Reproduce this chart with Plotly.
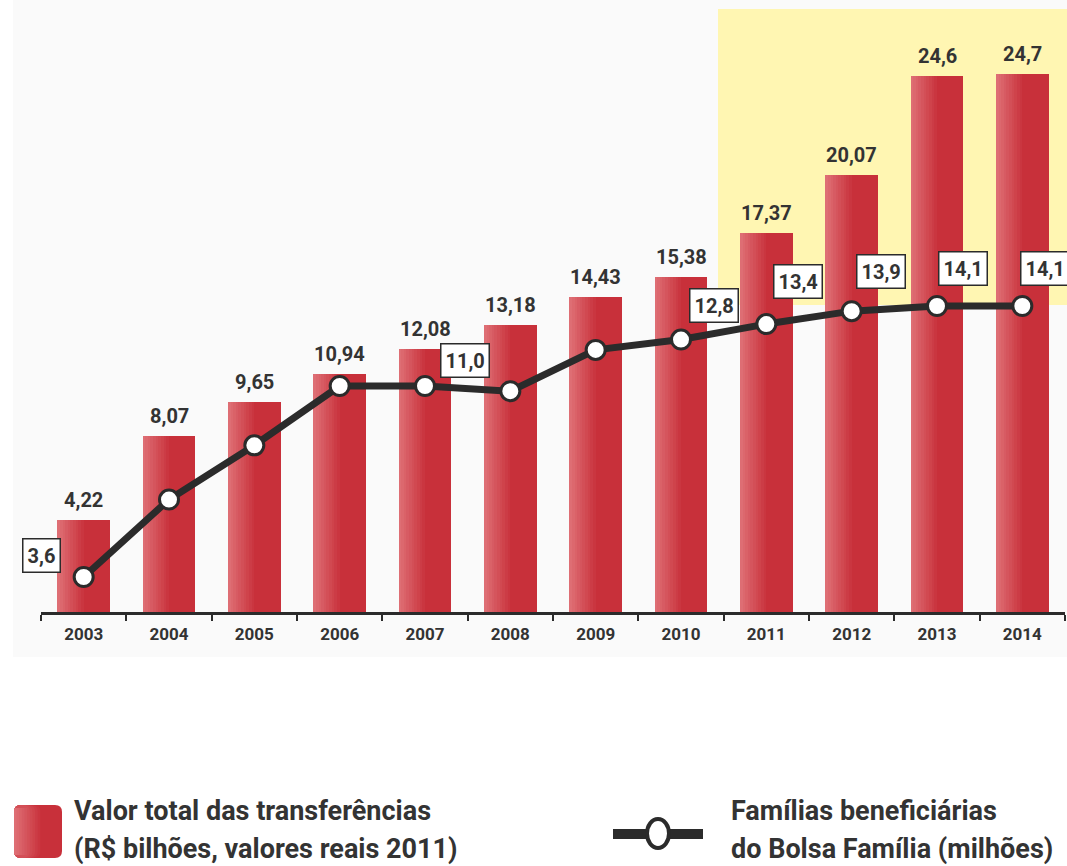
import plotly.graph_objects as go

# ---- data ----
years = ["2003", "2004", "2005", "2006", "2007", "2008", "2009", "2010", "2011", "2012", "2013", "2014"]
transfer_values = [4.22, 8.07, 9.65, 10.94, 12.08, 13.18, 14.43, 15.38, 17.37, 20.07, 24.6, 24.7]
families = [3.6, 6.6, 8.7, 11.0, 11.0, 10.8, 12.4, 12.8, 13.4, 13.9, 14.1, 14.1]
family_labeled = ["2003", "2007", "2010", "2011", "2012", "2013", "2014"]

legend_bar = ["Valor total das transferências", "(R$ bilhões, valores reais 2011)"]
legend_line = ["Famílias beneficiárias", "do Bolsa Família (milhões)"]

FONT = "Roboto, Liberation Sans, sans-serif"
TXT = "#333333"
DARK = "#2b2b2b"
RED = (200, 48, 58)
LIGHT = (222, 110, 116)

def fmt(v):
    return str(v).replace(".", ",")

def mix(a, b, t):
    return "rgb(%d,%d,%d)" % tuple(round(a[i] + (b[i] - a[i]) * t) for i in range(3))

fig = go.Figure()

W = 0.62
# main bar
fig.add_trace(go.Bar(x=years, y=transfer_values, width=W, offset=-W / 2,
                     marker=dict(color=mix(RED, RED, 0), line=dict(width=0)),
                     showlegend=False, hoverinfo="skip"))
# gradient strips on the left part of each bar
N = 10
for k in range(N):
    frac = 0.5 * (N - k) / N
    fig.add_trace(go.Bar(x=years, y=transfer_values, width=W * frac, offset=-W / 2,
                         marker=dict(color=mix(RED, LIGHT, (k + 1) / N), line=dict(width=0)),
                         showlegend=False, hoverinfo="skip"))

# line
fig.add_trace(go.Scatter(x=years, y=families, yaxis="y2", mode="lines+markers",
                         line=dict(color=DARK, width=7),
                         marker=dict(symbol="circle", size=19, color="white",
                                     line=dict(color=DARK, width=3)),
                         showlegend=False, hoverinfo="skip"))

annotations = []
# bar value labels (category index positions)
for i, v in enumerate(transfer_values):
    annotations.append(dict(x=i, y=v, xref="x", yref="y", text=fmt(v), showarrow=False,
                            yanchor="bottom", yshift=6,
                            font=dict(family=FONT, size=20, color=TXT, weight="bold")))

# line labels (boxes)
shifts = {"2003": (-42, 22), "2007": (40, 26), "2010": (33, 34), "2011": (32, 43),
          "2012": (29, 40), "2013": (26, 38), "2014": (23, 38)}
for i, (yr, v) in enumerate(zip(years, families)):
    if yr in family_labeled:
        dx, dy = shifts[yr]
        annotations.append(dict(x=i, y=v, xref="x", yref="y2", text=fmt(v), showarrow=False,
                                xshift=dx, yshift=dy, bgcolor="white", bordercolor=DARK,
                                borderwidth=1.5, borderpad=4,
                                font=dict(family=FONT, size=20, color=TXT, weight="bold")))

# pixel -> paper helpers
L, R_, T, B = 41, 1065, 8, 612
def px(xp):
    return (xp - L) / (R_ - L)
def py(yp):
    return (B - yp) / (B - T)

# legend texts
for i, line in enumerate(legend_bar):
    annotations.append(dict(x=px(72), y=py(811 + i * 38), xref="paper", yref="paper",
                            text=line, showarrow=False, xanchor="left", yanchor="middle",
                            font=dict(family=FONT, size=27, color=TXT, weight="bold")))
for i, line in enumerate(legend_line):
    annotations.append(dict(x=px(729), y=py(811 + i * 38), xref="paper", yref="paper",
                            text=line, showarrow=False, xanchor="left", yanchor="middle",
                            font=dict(family=FONT, size=27, color=TXT, weight="bold")))

shapes = []
# faint background panel
shapes.append(dict(type="rect", xref="paper", yref="paper", x0=px(13), x1=px(1067),
                   y0=py(657), y1=py(0), fillcolor="#fafafa", line=dict(width=0), layer="below"))
# yellow highlight
shapes.append(dict(type="rect", xref="paper", yref="paper", x0=px(718), x1=px(1070),
                   y0=py(305), y1=py(9), fillcolor="#fff6b2", line=dict(width=0), layer="below"))

# legend red rounded square with gradient
def rrect(x0, y0, x1, y1, r):
    return ("M {a},{b} L {c},{b} Q {d},{b} {d},{e} L {d},{f} Q {d},{g} {c},{g} "
            "L {a},{g} Q {h},{g} {h},{f} L {h},{e} Q {h},{b} {a},{b} Z").format(
        a=px(x0 + r), b=py(y0), c=px(x1 - r), d=px(x1), e=py(y0 + r),
        f=py(y1 - r), g=py(y1), h=px(x0))

shapes.append(dict(type="path", xref="paper", yref="paper", path=rrect(14, 805, 62, 858, 7),
                   fillcolor=mix(RED, RED, 0), line=dict(width=0)))
for k in range(N):
    frac = 0.55 * (N - k) / N
    x1 = 14 + 48 * frac
    if x1 >= 28:
        path = rrect(14, 805, x1, 858, 7)
    else:
        path = "M {a},{b} L {c},{b} L {c},{d} L {a},{d} Z".format(a=px(14), b=py(808), c=px(x1), d=py(855))
    shapes.append(dict(type="path", xref="paper", yref="paper", path=path,
                       fillcolor=mix(RED, LIGHT, (k + 1) / N), line=dict(width=0)))

# legend line symbol
shapes.append(dict(type="line", xref="paper", yref="paper", x0=px(613), x1=px(703),
                   y0=py(834), y1=py(834), line=dict(color=DARK, width=10)))
shapes.append(dict(type="circle", xref="paper", yref="paper", x0=px(647), x1=px(669),
                   y0=py(848), y1=py(819), fillcolor="white", line=dict(color=DARK, width=4)))

fig.update_layout(
    width=1067, height=866,
    margin=dict(l=L, r=1067 - R_, t=T, b=866 - B),
    paper_bgcolor="white", plot_bgcolor="rgba(0,0,0,0)",
    barmode="overlay", bargap=0,
    xaxis=dict(type="category", range=[-0.5, 11.5], tickson="boundaries", ticks="outside",
               ticklen=6, tickwidth=2, tickcolor=DARK, showline=True, linecolor=DARK,
               linewidth=3, showgrid=False, zeroline=False, ticklabelstandoff=5,
               tickfont=dict(family=FONT, size=17, color=TXT, weight="bold")),
    yaxis=dict(range=[0, 27.71], visible=False, showgrid=False, zeroline=False),
    yaxis2=dict(range=[2.244, 25.646], overlaying="y", visible=False, showgrid=False, zeroline=False),
    annotations=annotations, shapes=shapes,
)

fig.write_html("out.html", config={"displayModeBar": False},
               post_script="document.body.style.margin='0';document.body.style.overflow='hidden';")
